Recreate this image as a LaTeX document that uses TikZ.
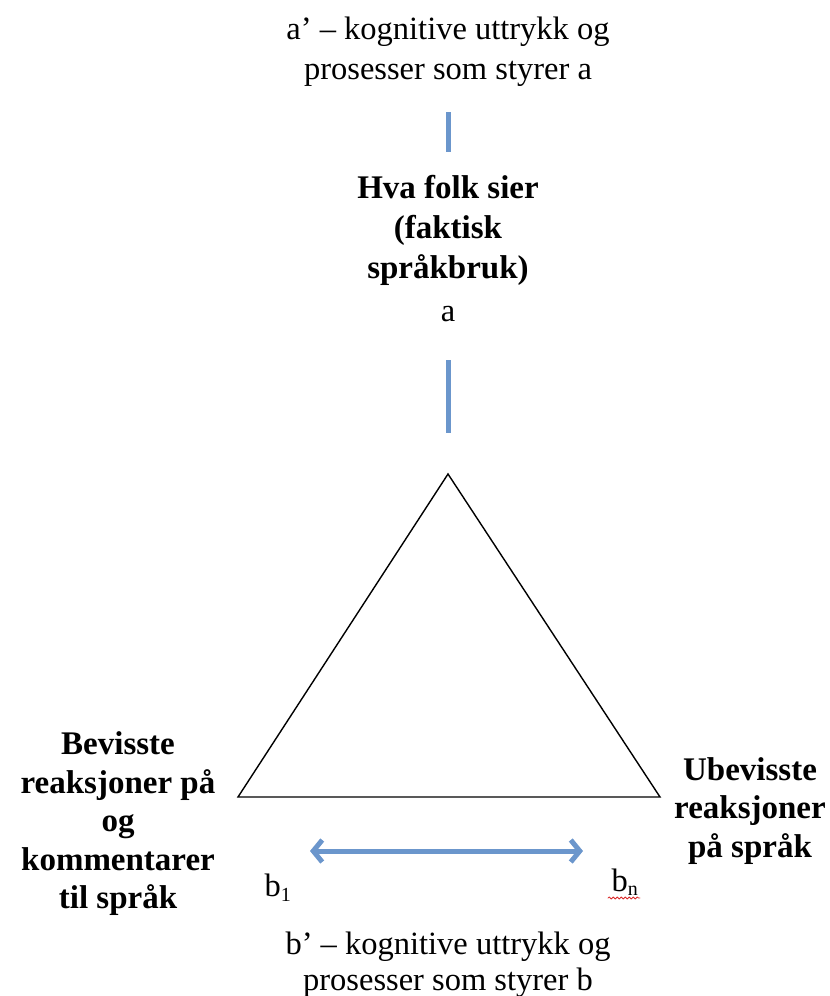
\documentclass[tikz,border=0pt]{standalone}
\usepackage{fontspec}
\setmainfont{Liberation Serif}
\usetikzlibrary{arrows.meta,decorations.pathmorphing}
\definecolor{bbluebar}{rgb}{0.42,0.59,0.80}
\definecolor{rrwave}{rgb}{0.85,0.15,0.15}

\begin{document}
\begin{tikzpicture}[line cap=round,line join=round,x=1pt,y=-1pt,
  txt/.style={align=center,inner sep=0pt,font=\fontsize{32.5}{40}\selectfont},
  btxt/.style={align=center,inner sep=0pt,font=\fontsize{33}{38.5}\selectfont\bfseries},
  bar/.style={color=bbluebar,line width=5pt,line cap=butt}]
\useasboundingbox (0,0) rectangle (830,996);
%\draw[help lines,step=50] (0,0) grid (830,996);
% top label and bars
\node[txt] (aprime) at (448,52) {a’ – kognitive uttrykk og\\prosesser som styrer a};
\coordinate (bar1top) at (448,112);
\coordinate (bar1bot) at (448,152);
\draw[bar] (bar1top) -- (bar1bot);
\node[btxt,font=\fontsize{33}{40}\selectfont\bfseries] (hva) at (448,230) {Hva folk sier\\(faktisk\\språkbruk)};
\node[txt] (a) at (448,314) {a};
\coordinate (bar2top) at (448,360);
\coordinate (bar2bot) at (448,433);
\draw[bar] (bar2top) -- (bar2bot);
% triangle
\coordinate (apex) at (448,474);
\coordinate (left) at (238,797);
\coordinate (right) at (660,797);
\draw[line width=1.4pt,line join=miter] (apex) -- (left) -- (right) -- cycle;
% corner labels
\node[btxt] (bevisste) at (118,824) {Bevisste\\reaksjoner på\\og\\kommentarer\\til språk};
\node[btxt] (ubevisste) at (750,811) {Ubevisste\\reaksjoner\\på språk};
% double arrow
\coordinate (arrL) at (310,851);
\coordinate (arrR) at (583,851);
\draw[bar,{Straight Barb[length=9pt,width=22pt,line width=5pt]}-{Straight Barb[length=9pt,width=22pt,line width=5pt]}] (arrL) -- (arrR);
\node[txt] (b1) at (278,888) {b\textsubscript{\fontsize{20}{20}\selectfont 1}};
\node[txt] (bn) at (625,882) {b\textsubscript{\fontsize{20}{20}\selectfont n}};
\coordinate (waveL) at (608,898);
\coordinate (waveR) at (640,898);
\draw[rrwave,line width=0.8pt,decorate,decoration={snake,amplitude=1pt,segment length=4pt}] (waveL) -- (waveR);
% bottom label
\node[txt,font=\fontsize{32.5}{36}\selectfont] (bprime) at (448,965) {b’ – kognitive uttrykk og\\prosesser som styrer b};
\end{tikzpicture}
\end{document}
